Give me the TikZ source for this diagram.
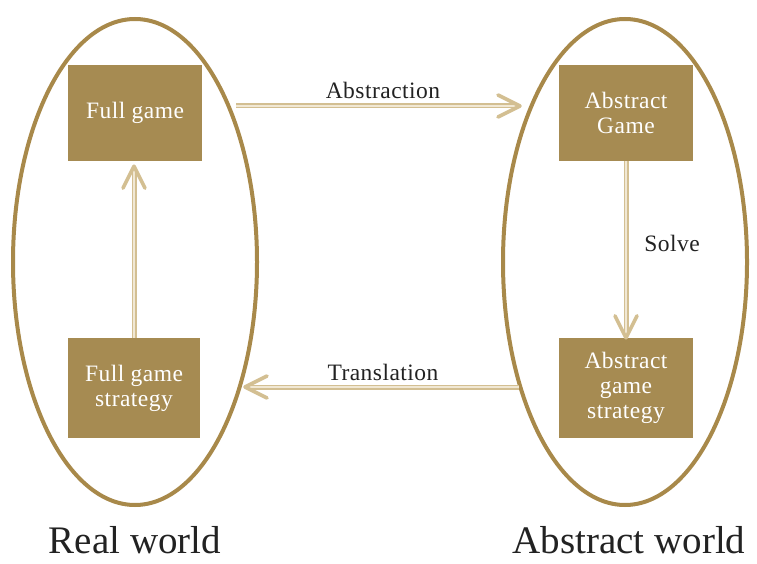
\documentclass[tikz,border=0pt]{standalone}
\usepackage{fontspec}
\setmainfont{Liberation Serif}
\usetikzlibrary{calc}
\definecolor{gold}{HTML}{A68B52}
\definecolor{ring}{HTML}{A8894A}
\definecolor{arrline}{HTML}{D3BF92}
\definecolor{arrfill}{HTML}{F1E8D4}
\definecolor{ink}{HTML}{222222}
\newcommand{\midfont}{\fontsize{23.5}{25}\selectfont\addfontfeature{LetterSpace=2}}
\begin{document}
\begin{tikzpicture}[x=1pt,y=-1pt,
  box/.style={fill=gold, text=white, minimum width=134pt, minimum height=96pt,
    align=center, inner sep=0pt, font=\midfont},
  world/.style={draw=ring, line width=4pt},
  flow/.style={draw=arrline, double=arrfill, double distance=2.4pt, line width=1.3pt},
  tip/.style={draw=arrline, line width=3.6pt, line cap=round, line join=round},
  lab/.style={text=ink, font=\midfont},
  big/.style={text=ink, inner sep=0pt, anchor=base, text depth=0pt,
    font=\fontsize{39}{44}\selectfont}
]
\useasboundingbox (0,0) rectangle (757,564);

% the two worlds
\draw[world] (135,262) ellipse [x radius=122, y radius=243];
\draw[world] (625,262) ellipse [x radius=122, y radius=243];

% game boxes
\node[box] (fg) at (135,113) {Full game};
\node[box, minimum width=132pt, minimum height=100pt] (fgs) at (134,388) {Full game\\strategy};
\node[box] (ag) at (626,113) {Abstract\\Game};
\node[box, minimum height=100pt] (ags) at (626,388) {Abstract\\game\\strategy};

% ends of the horizontal connectors
\coordinate (absA) at (236,106);
\coordinate (absB) at (520,106);
\coordinate (trA) at (519,387);
\coordinate (trB) at (245,387);
\coordinate (upB) at ($(fgs.north |- fg.south)+(0,5)$);

% Abstraction
\draw[flow] (absA) -- ($(absB)+(-3,0)$);
\draw[tip] ($(absB)+(-22,-11)$) -- (absB) -- ($(absB)+(-22,11)$);
\node[lab] (labAbs) at (383,90) {Abstraction};

% Translation
\draw[flow] (trA) -- ($(trB)+(3,0)$);
\draw[tip] ($(trB)+(22,-11)$) -- (trB) -- ($(trB)+(22,11)$);
\node[lab] (labTr) at (383,372) {Translation};

% strategy lifts back to the full game
\draw[flow] (fgs.north) -- ($(upB)+(0,3)$);
\draw[tip] ($(upB)+(-11,22)$) -- (upB) -- ($(upB)+(11,22)$);

% Solve
\draw[flow] (ag.south) -- ($(ags.north)+(0,-3)$);
\draw[tip] ($(ags.north)+(-11,-22)$) -- (ags.north) -- ($(ags.north)+(11,-22)$);
\node[lab] (labSolve) at (672,243) {Solve};

% world captions
\node[big] (real) at (135,553) {Real world};
\node[big] (abs) at (629,553) {Abstract world};
\end{tikzpicture}
\end{document}
